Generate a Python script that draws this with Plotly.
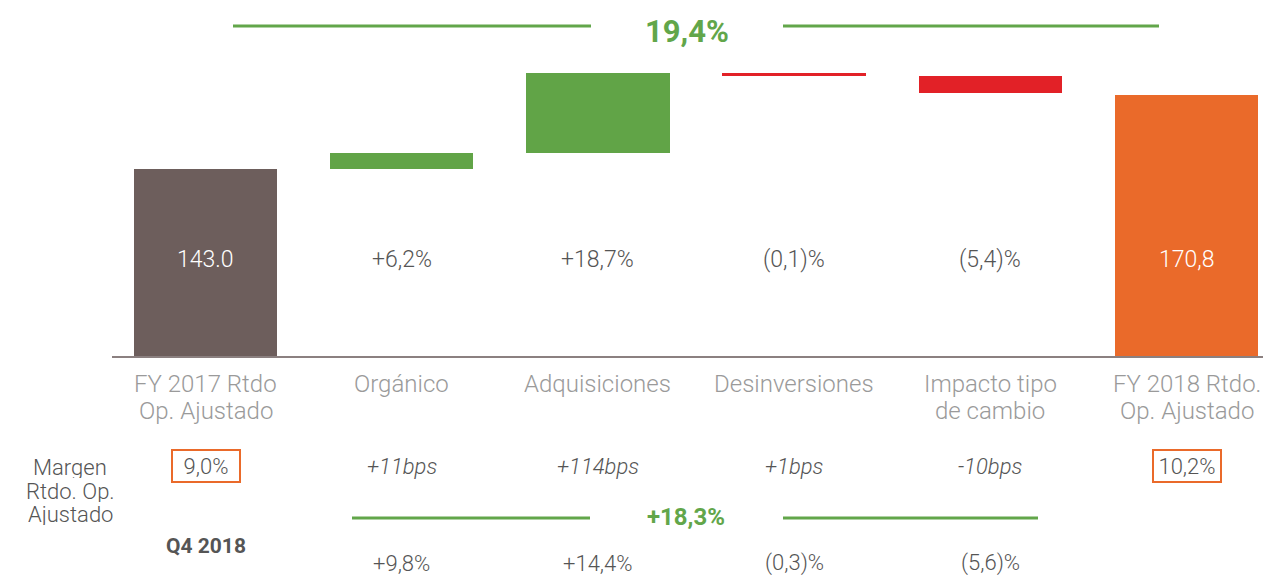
import plotly.graph_objects as go

# ---------------- data ----------------
categories = ["FY 2017 Rtdo<br>Op. Ajustado", "Orgánico", "Adquisiciones",
              "Desinversiones", "Impacto tipo<br>de cambio", "FY 2018 Rtdo.<br>Op. Ajustado"]
start_value = 143.0
step_values = [6.0, 30.1, -1.1, -6.4]          # bar heights as drawn in the picture
end_value = 170.8
axis_floor = 72.75                              # value where the (truncated) axis starts
bar_labels = ["143.0", "+6,2%", "+18,7%", "(0,1)%", "(5,4)%", "170,8"]
margin_labels = ["9,0%", "+11bps", "+114bps", "+1bps", "-10bps", "10,2%"]
q4_labels = ["", "+9,8%", "+14,4%", "(0,3)%", "(5,6)%", ""]
margin_title = ["Margen", "Rtdo. Op.", "Ajustado"]
q4_title = "Q4 2018"
fy_growth = "19,4%"
q4_growth = "+18,3%"

BROWN = "#6d5e5c"
GREEN = "#61a447"
RED = "#e22127"
ORANGE = "#ea6a2a"
LINE_GREEN = "#62a64a"
FONT = "Roboto, 'Open Sans', sans-serif"

OFF = 8                      # page body margin in the browser
W, H = 1271 - OFF, 582 - OFF
ML, MB = 112 - OFF, 226
PW, PH = W - ML, H - MB      # plot area: screen px 112..1271 wide, 8..356 tall


def px_x(px):                # screen pixel -> paper x
    return (px - OFF - ML) / PW


def px_y(py):                # screen pixel -> paper y
    return (PH - (py - OFF)) / PH


SCALE_X = 196.2              # px per category
SCALE_Y = 2.662              # px per value unit

# ---------------- bars ----------------
n = len(categories)
xs = list(range(n))
bases, heights, colors = [], [], []
bases.append(axis_floor)
heights.append(start_value - axis_floor)
colors.append(BROWN)
level = start_value
for v in step_values:
    bases.append(level)
    heights.append(v)
    colors.append(GREEN if v >= 0 else RED)
    level += v
bases.append(axis_floor)
heights.append(end_value - axis_floor)
colors.append(ORANGE)

fig = go.Figure(go.Bar(
    x=xs, y=heights, base=bases, width=0.731,
    marker=dict(color=colors, line=dict(width=0)),
    hoverinfo="skip", showlegend=False,
))

ann = []
for i, t in enumerate(bar_labels):
    ann.append(dict(x=i, xref="x", y=px_y(259), yref="paper", text=t, showarrow=False,
                    font=dict(family=FONT, size=23, color="white" if i in (0, n - 1) else "#555555",
                              weight=300),
                    xanchor="center", yanchor="middle"))
for i, c in enumerate(categories):
    for j, line in enumerate(c.split("<br>")):
        ann.append(dict(x=i, xref="x", y=px_y(384 + 27 * j), yref="paper", text=line, showarrow=False,
                        font=dict(family=FONT, size=24, color="#9a9a9a", weight=300),
                        height=26, xanchor="center", yanchor="middle"))
for j, line in enumerate(margin_title):
    ann.append(dict(x=px_x(70), xref="paper", y=px_y(467 + 23.5 * j), yref="paper", text=line,
                    showarrow=False, font=dict(family=FONT, size=22, color="#555555", weight=300),
                    height=22, xanchor="center", yanchor="middle"))
for i, t in enumerate(margin_labels):
    boxed = i in (0, n - 1)
    a = dict(x=i, xref="x", y=px_y(466), yref="paper",
             text=t if boxed else "<i>" + t + "</i>", showarrow=False,
             font=dict(family=FONT, size=22, color="#555555", weight=300),
             xanchor="center", yanchor="middle")
    if boxed:
        a.update(bordercolor=ORANGE, borderwidth=2, borderpad=1, width=64, height=28)
    ann.append(a)
ann.append(dict(x=0, xref="x", y=px_y(546), yref="paper", text="<b>" + q4_title + "</b>", showarrow=False,
                font=dict(family=FONT, size=21, color="#555555"), xanchor="center", yanchor="middle"))
for i, t in enumerate(q4_labels):
    if t:
        ann.append(dict(x=i, xref="x", y=px_y(563), yref="paper", text=t, showarrow=False,
                        font=dict(family=FONT, size=22, color="#555555", weight=300),
                        xanchor="center", yanchor="middle"))
ann.append(dict(x=px_x(687), xref="paper", y=px_y(31), yref="paper", text="<b>" + fy_growth + "</b>",
                showarrow=False, font=dict(family=FONT, size=31, color=LINE_GREEN),
                xanchor="center", yanchor="middle"))
ann.append(dict(x=px_x(686), xref="paper", y=px_y(517), yref="paper", text="<b>" + q4_growth + "</b>",
                showarrow=False, font=dict(family=FONT, size=24, color=LINE_GREEN),
                xanchor="center", yanchor="middle"))

shapes = []
for (x0, x1, y) in [(233, 591, 26), (783, 1159, 26), (352, 590, 518), (783, 1038, 518)]:
    shapes.append(dict(type="line", xref="paper", yref="paper",
                       x0=px_x(x0), x1=px_x(x1), y0=px_y(y), y1=px_y(y),
                       line=dict(color=LINE_GREEN, width=3)))

x_lo = -(205.5 - 112) / SCALE_X
y_lo = axis_floor
fig.update_layout(
    width=W, height=H,
    margin=dict(l=ML, r=0, t=0, b=MB, pad=0),
    paper_bgcolor="white", plot_bgcolor="white",
    xaxis=dict(range=[x_lo, x_lo + PW / SCALE_X], showgrid=False, zeroline=False,
               showticklabels=False, ticks="", showline=True, linecolor="#8b8080", linewidth=2),
    yaxis=dict(range=[y_lo, y_lo + PH / SCALE_Y], visible=False, showgrid=False, zeroline=False),
    annotations=ann, shapes=shapes,
    bargap=0,
)

fig.write_html("out.html")
